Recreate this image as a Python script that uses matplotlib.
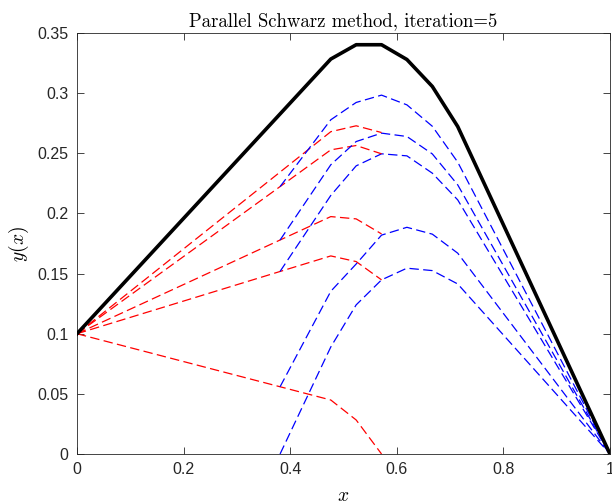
import matplotlib
matplotlib.use("Agg")
import matplotlib.pyplot as plt

plt.rcParams['font.family'] = ['Liberation Sans', 'DejaVu Sans']
plt.rcParams['mathtext.fontset'] = 'cm'

# grid nodes (h = 1/21)
x_exact = [0.0, 0.4762, 0.5238, 0.5714, 0.6190, 0.6667, 0.7143, 1.0]
y_exact = [0.1, 0.3284, 0.3403, 0.3403, 0.3280, 0.3056, 0.2723, 0.0]

# left subdomain iterates (red)
x_left = [0.0, 0.4762, 0.5238, 0.5714]
left_iters = [
    [0.1, 0.0449, 0.0283, 0.0],
    [0.1, 0.1647, 0.1600, 0.1448],
    [0.1, 0.1974, 0.1955, 0.1830],
    [0.1, 0.2529, 0.2565, 0.2496],
    [0.1, 0.2680, 0.2729, 0.2673],
]

# right subdomain iterates (blue)
x_right = [0.3810, 0.4762, 0.5238, 0.5714, 0.6190, 0.6667, 0.7143, 1.0]
right_iters = [
    [0.0, 0.0890, 0.1240, 0.1448, 0.1545, 0.1525, 0.1414, 0.0],
    [0.0559, 0.1353, 0.1580, 0.1820, 0.1885, 0.1828, 0.1670, 0.0],
    [0.1518, 0.2150, 0.2396, 0.2496, 0.2479, 0.2335, 0.2113, 0.0],
    [0.1779, 0.2405, 0.2598, 0.2668, 0.2640, 0.2495, 0.2238, 0.0],
    [0.2223, 0.2779, 0.2923, 0.2984, 0.2903, 0.2725, 0.2427, 0.0],
]

fig = plt.figure(figsize=(6.12, 5.01), dpi=100)
ax = fig.add_axes([0.1258, 0.0938, 0.8709, 0.8402])

ax.plot(x_exact, y_exact, color='k', lw=2.6, zorder=5)
for yl, yr in zip(left_iters, right_iters):
    ax.plot(x_left, yl, color='r', lw=0.9, dashes=(7.5, 3.5))
    ax.plot(x_right, yr, color='b', lw=0.9, dashes=(7.5, 3.5))

ax.set_xlim(0, 1)
ax.set_ylim(0, 0.35)
ax.set_xticks([0, 0.2, 0.4, 0.6, 0.8, 1])
ax.set_xticklabels(['0', '0.2', '0.4', '0.6', '0.8', '1'])
ax.set_yticks([0, 0.05, 0.1, 0.15, 0.2, 0.25, 0.3, 0.35])
ax.set_yticklabels(['0', '0.05', '0.1', '0.15', '0.2', '0.25', '0.3', '0.35'])
ax.tick_params(direction='in', top=True, right=True, length=5, width=0.6,
               labelsize=11.5, colors='#262626', pad=6)
for s in ax.spines.values():
    s.set_color('#262626')
    s.set_linewidth(0.6)

ax.set_xlabel(r'$x$', fontsize=14, labelpad=8)
ax.set_ylabel(r'$y(x)$', fontsize=14, labelpad=5)
ax.set_title('Parallel Schwarz method, iteration=5', family='cmr10',
             fontsize=13.5, pad=5)

fig.savefig('out.png', dpi=100)
